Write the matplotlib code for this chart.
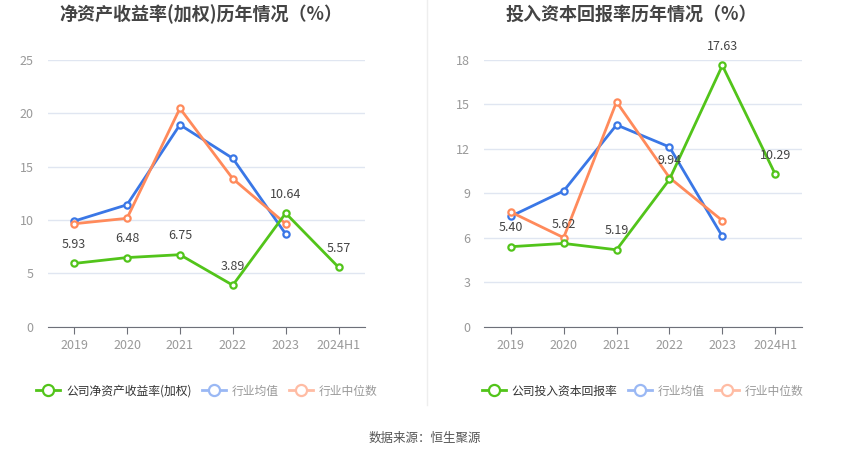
import matplotlib.pyplot as plt
from matplotlib.lines import Line2D

plt.rcParams['font.family'] = ['Noto Sans CJK SC', 'DejaVu Sans']

years = ['2019', '2020', '2021', '2022', '2023', '2024H1']

# 净资产收益率(加权)
roe_company = [5.93, 6.48, 6.75, 3.89, 10.64, 5.57]
roe_avg = [9.90, 11.43, 18.93, 15.78, 8.69]
roe_median = [9.65, 10.16, 20.47, 13.87, 9.65]

# 投入资本回报率
roic_company = [5.40, 5.62, 5.19, 9.94, 17.63, 10.29]
roic_avg = [7.45, 9.16, 13.62, 12.13, 6.10]
roic_median = [7.74, 6.01, 15.17, 10.06, 7.16]

GREEN = '#52c41a'
BLUE = '#3a77e6'
ORANGE = '#ff8a5b'
W, H = 850, 459


def px_axes(fig, x0, x1, ytop, ybot):
    return fig.add_axes([x0 / W, 1 - ybot / H, (x1 - x0) / W, (ybot - ytop) / H])


def draw_panel(ax, company, avg, median, ymax, step):
    x = list(range(len(years)))
    for vals, c, z in [(avg, BLUE, 3), (median, ORANGE, 3), (company, GREEN, 4)]:
        ax.plot(x[:len(vals)], vals, color=c, lw=2, marker='o', ms=4.5,
                mfc='white', mec=c, mew=1.6, zorder=z, clip_on=False)
    for i, v in enumerate(company):
        ax.annotate(f'{v:.2f}', (i, v), xytext=(0, 9), textcoords='offset points',
                    ha='center', va='bottom', fontsize=9, color='#444444', zorder=5)
    ax.set_xlim(-0.5, len(years) - 0.5)
    ax.set_ylim(0, ymax)
    ax.set_yticks(range(0, ymax + 1, step))
    ax.set_xticks(x)
    ax.set_xticklabels(years)
    ax.grid(axis='y', color='#e0e6f1', lw=1)
    ax.set_axisbelow(True)
    for s in ['top', 'right', 'left']:
        ax.spines[s].set_visible(False)
    ax.spines['bottom'].set_color('#6e7079')
    ax.tick_params(axis='y', length=0, labelcolor='#999999', labelsize=9, pad=10)
    ax.tick_params(axis='x', length=5, color='#6e7079', labelcolor='#999999',
                   labelsize=9, pad=4)


fig = plt.figure(figsize=(W / 100, H / 100), dpi=100)

ax1 = px_axes(fig, 47.7, 365, 60, 326.7)
draw_panel(ax1, roe_company, roe_avg, roe_median, 25, 5)
ax2 = px_axes(fig, 484.3, 801.7, 60, 326.7)
draw_panel(ax2, roic_company, roic_avg, roic_median, 18, 3)

fig.text(201 / W, 1 - 14 / H, '净资产收益率(加权)历年情况（%）', ha='center', va='center',
         fontsize=13, fontweight='bold', color='#444444')
fig.text(631 / W, 1 - 14 / H, '投入资本回报率历年情况（%）', ha='center', va='center',
         fontsize=13, fontweight='bold', color='#444444')

# divider
fig.add_artist(Line2D([427 / W, 427 / W], [1 - 405 / H, 1], color='#eeeeee', lw=1))


def legend_handle(c):
    return Line2D([], [], color=c, lw=2, marker='o', ms=8, mfc='white', mec=c, mew=1.6)


for cx, name in [(207, '公司净资产收益率(加权)'), (643, '公司投入资本回报率')]:
    leg = fig.legend([legend_handle(GREEN), legend_handle('#9ab8f4'), legend_handle('#ffbca4')],
                     [name, '行业均值', '行业中位数'], loc='center',
                     bbox_to_anchor=(cx / W, 1 - 391 / H), ncol=3, frameon=False,
                     fontsize=8.5, handlelength=2.0, handletextpad=0.5, columnspacing=0.9)
    for t, c in zip(leg.get_texts(), ['#333333', '#999999', '#999999']):
        t.set_color(c)

fig.text(425 / W, 1 - 438 / H, '数据来源：恒生聚源', ha='center', va='center',
         fontsize=9, color='#555555')

fig.savefig('out.png', dpi=100)
